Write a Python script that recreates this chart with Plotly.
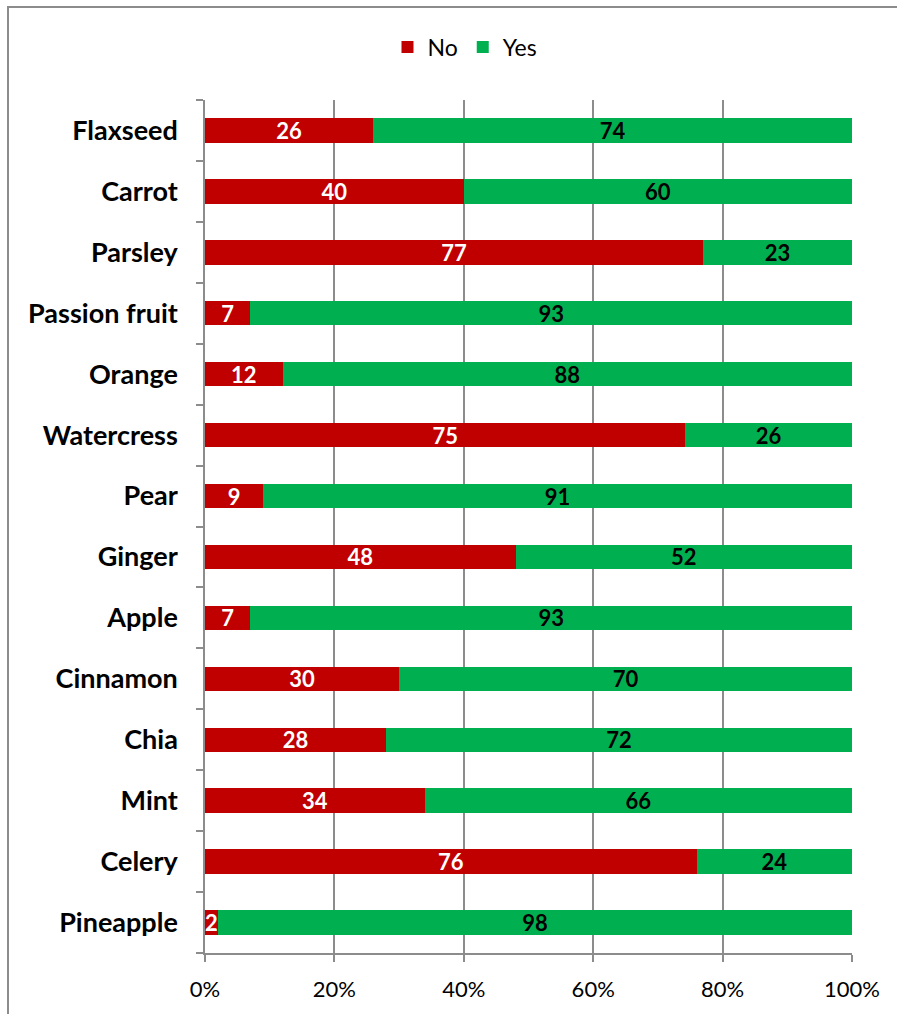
import plotly.graph_objects as go

categories = ["Flaxseed", "Carrot", "Parsley", "Passion fruit", "Orange", "Watercress",
              "Pear", "Ginger", "Apple", "Cinnamon", "Chia", "Mint", "Celery", "Pineapple"]
no_values = [26, 40, 77, 7, 12, 75, 9, 48, 7, 30, 28, 34, 76, 2]
yes_values = [74, 60, 23, 93, 88, 26, 91, 52, 93, 70, 72, 66, 24, 98]
x_tick_vals = [0, 20, 40, 60, 80, 100]
x_tick_text = ["0%", "20%", "40%", "60%", "80%", "100%"]

FONT = "Lato"
W, H = 897, 1014
ML, MR, MT, MB = 205, 45, 100, 61
PW, PH = W - ML - MR, H - MT - MB

fig = go.Figure()
fig.add_trace(go.Bar(
    y=categories, x=no_values, name="No", orientation="h",
    marker=dict(color="#C00000", line=dict(width=0)),
    text=[str(v) for v in no_values], textposition="inside", insidetextanchor="middle",
    textangle=0,
    textfont=dict(color="white", size=22, family=FONT, weight="bold"),
    constraintext="none", cliponaxis=False,
))
fig.add_trace(go.Bar(
    y=categories, x=yes_values, name="Yes", orientation="h",
    marker=dict(color="#00B050", line=dict(width=0)),
    text=[str(v) for v in yes_values], textposition="inside", insidetextanchor="middle",
    textangle=0,
    textfont=dict(color="black", size=22, family=FONT, weight="bold"),
    constraintext="none",
))

def px_x(p):
    return (p - ML) / PW

def px_y(p):
    return (H - MB - p) / PH

fig.update_layout(
    width=W, height=H,
    margin=dict(l=ML, r=MR, t=MT, b=MB, autoexpand=False),
    barmode="stack", barnorm="percent", bargap=0.6,
    plot_bgcolor="white", paper_bgcolor="white",
    font=dict(family=FONT, color="black"),
    uniformtext=dict(minsize=10, mode="show"),
    legend=dict(orientation="h", x=px_x(465), xanchor="center", y=px_y(47), yanchor="middle",
                font=dict(size=23, family=FONT), traceorder="normal",
                itemwidth=30, itemsizing="constant"),
    xaxis=dict(range=[0, 100], tickvals=x_tick_vals, ticktext=x_tick_text,
               showgrid=True, gridcolor="#8C8C8C", gridwidth=1.5,
               showline=True, linecolor="#8C8C8C", linewidth=1.5,
               ticks="outside", ticklen=7, tickcolor="#8C8C8C", tickwidth=1.5,
               ticklabelstandoff=9, automargin=False,
               tickfont=dict(size=22, family=FONT), zeroline=False, fixedrange=True),
    yaxis=dict(categoryorder="array", categoryarray=categories[::-1],
               autorange=False, range=[-0.5, len(categories) - 0.5],
               showgrid=False, showline=True, linecolor="#8C8C8C", linewidth=1.5,
               ticks="outside", ticklen=7, tickcolor="#8C8C8C", tickwidth=1.5,
               tickson="boundaries", ticklabelstandoff=20, automargin=False,
               tickfont=dict(size=27, family=FONT, weight="bold")),
    shapes=[dict(type="rect", xref="paper", yref="paper",
                 x0=px_x(8), x1=px_x(W + 20), y0=px_y(H + 20), y1=px_y(7),
                 line=dict(color="#8C8C8C", width=2), fillcolor="rgba(0,0,0,0)", layer="below")],
)

fig.write_html("out.html")
